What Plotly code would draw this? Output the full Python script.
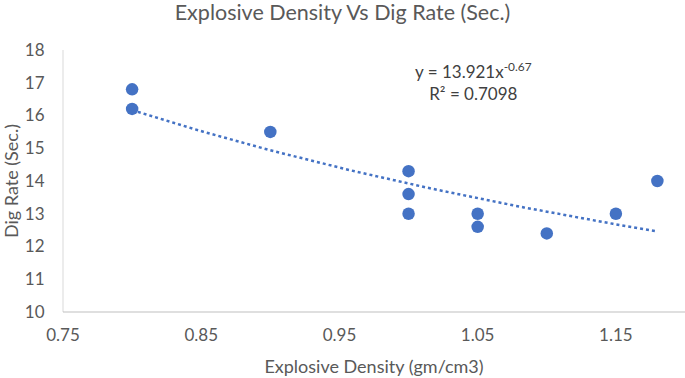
import numpy as np
import plotly.graph_objects as go

density = [0.80, 0.80, 0.90, 1.00, 1.00, 1.00, 1.05, 1.05, 1.10, 1.15, 1.18]
dig_rate = [16.8, 16.2, 15.5, 14.3, 13.6, 13.0, 13.0, 12.6, 12.4, 13.0, 14.0]
trend_a = 13.921
trend_b = -0.67
r2 = 0.7098

x_tr = np.linspace(min(density), max(density), 60)
y_tr = trend_a * x_tr ** trend_b

fig = go.Figure()
fig.add_trace(go.Scatter(x=x_tr, y=y_tr, mode="lines",
                         line=dict(color="#4472C4", width=2.5, dash="dot"),
                         hoverinfo="skip", showlegend=False))
fig.add_trace(go.Scatter(x=density, y=dig_rate, mode="markers",
                         marker=dict(color="#4472C4", size=12.5),
                         showlegend=False))

font = "Lato, Carlito, Calibri, sans-serif"
fig.update_layout(
    width=685, height=378,
    margin=dict(l=63, r=0, t=50, b=66),
    paper_bgcolor="white", plot_bgcolor="white",
    font=dict(family=font, color="#595959", size=17),
    title=dict(text="Explosive Density Vs Dig Rate (Sec.)", x=0.5, xanchor="center",
               y=0.968, yanchor="middle", font=dict(size=21.5, color="#595959")),
    xaxis=dict(range=[0.75, 1.2], tick0=0.75, dtick=0.1, showgrid=False,
               showline=False, zeroline=False,
               ticks="outside", ticklen=8, tickcolor="rgba(0,0,0,0)",
               tickformat=".2f", automargin=False,
               title=dict(text="Explosive Density (gm/cm3)", standoff=15,
                          font=dict(size=18, color="#595959"))),
    yaxis=dict(range=[10, 18], dtick=1, showgrid=False,
               showline=False, zeroline=False,
               ticks="outside", ticklen=14, tickcolor="rgba(0,0,0,0)",
               automargin=False,
               title=dict(text="Dig Rate (Sec.)", standoff=6,
                          font=dict(size=18, color="#595959"))),
    shapes=[
        dict(type="line", xref="paper", yref="paper", x0=0, x1=0, y0=0, y1=1,
             line=dict(color="#D9D9D9", width=1), layer="below"),
        dict(type="line", xref="paper", yref="paper", x0=0, x1=1, y0=0, y1=0,
             line=dict(color="#BFBFBF", width=1), layer="below"),
    ],
)
fig.add_annotation(x=1.047, y=17.03, xref="x", yref="y", showarrow=False,
                   text=f"y = {trend_a}x<sup>{trend_b}</sup><br>R² = {r2}",
                   font=dict(size=17, color="#404040", family=font), align="center")
fig.write_html("out.html", config={"displayModeBar": False},
               post_script="document.body.style.margin='0';")
